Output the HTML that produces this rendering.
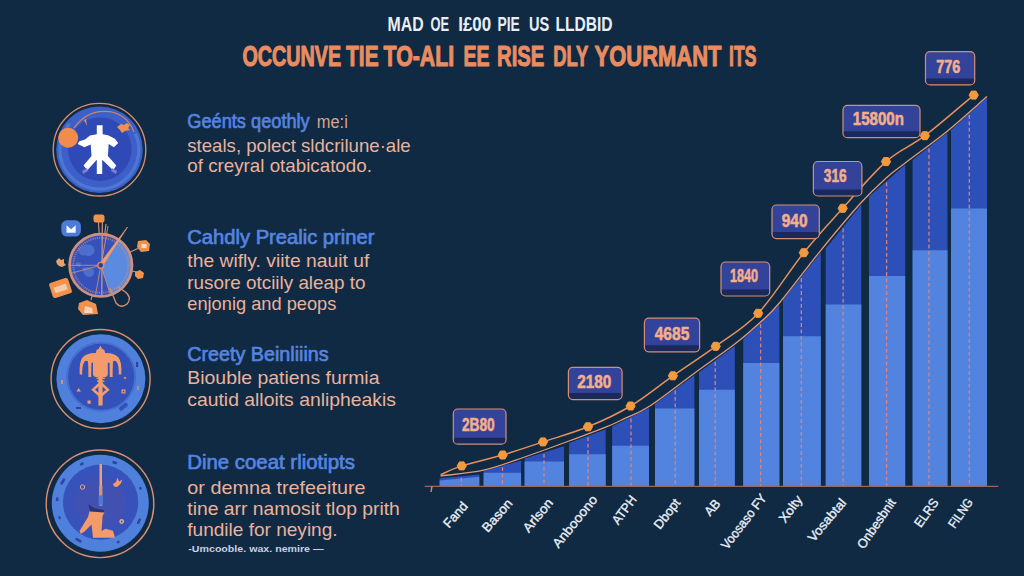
<!DOCTYPE html><html><head><meta charset="utf-8"><title>Infographic</title>
<style>html,body{margin:0;padding:0;background:#102a43;overflow:hidden}svg{display:block}text{font-family:"Liberation Sans",sans-serif}</style></head><body>
<svg width="1024" height="576" viewBox="0 0 1024 576">
<rect width="1024" height="576" fill="#102a43"/>
<g fill="#e9eef6" font-size="19.8" font-weight="700">
<text x="387.6" y="31.2" textLength="36.1" lengthAdjust="spacingAndGlyphs">MAD</text>
<text x="430.6" y="31.2" textLength="18.6" lengthAdjust="spacingAndGlyphs">OE</text>
<text x="458.2" y="31.2" textLength="33.0" lengthAdjust="spacingAndGlyphs">I£00</text>
<text x="497.4" y="31.2" textLength="22.4" lengthAdjust="spacingAndGlyphs">PIE</text>
<text x="529.0" y="31.2" textLength="20.3" lengthAdjust="spacingAndGlyphs">US</text>
<text x="555.4" y="31.2" textLength="57.2" lengthAdjust="spacingAndGlyphs">LLDBID</text>
</g>
<g fill="#ea8c60" font-size="29.6" font-weight="700" stroke="#ea8c60" stroke-width="1.1" stroke-linejoin="round">
<text x="242.4" y="65.6" textLength="98.8" lengthAdjust="spacingAndGlyphs">OCCUNVE</text>
<text x="346.1" y="65.6" textLength="32.5" lengthAdjust="spacingAndGlyphs">TIE</text>
<text x="383.5" y="65.6" textLength="70.6" lengthAdjust="spacingAndGlyphs">TO-ALI</text>
<text x="463.4" y="65.6" textLength="26.1" lengthAdjust="spacingAndGlyphs">EE</text>
<text x="497.1" y="65.6" textLength="47.2" lengthAdjust="spacingAndGlyphs">RISE</text>
<text x="553.2" y="65.6" textLength="35.2" lengthAdjust="spacingAndGlyphs">DLY</text>
<text x="594.6" y="65.6" textLength="126.9" lengthAdjust="spacingAndGlyphs">YOURMANT</text>
<text x="729.1" y="65.6" textLength="27.2" lengthAdjust="spacingAndGlyphs">ITS</text>
</g>
<text x="187.3" y="128.2" textLength="122.4" lengthAdjust="spacingAndGlyphs" fill="#5584e0" font-size="19.5" font-weight="400" stroke="#5584e0" stroke-width="0.65">Geénts qeothly</text>
<text x="316.8" y="128.0" textLength="31.0" lengthAdjust="spacingAndGlyphs" fill="#d9a48f" font-size="17.5" font-weight="400">me:i</text>
<text x="187.3" y="152.0" textLength="223.4" lengthAdjust="spacingAndGlyphs" fill="#eab29c" font-size="18.5" font-weight="400">steals, polect sldcrilune·ale</text>
<text x="187.3" y="172.4" textLength="184.6" lengthAdjust="spacingAndGlyphs" fill="#eab29c" font-size="18.5" font-weight="400">of creyral otabicatodo.</text>
<text x="187.3" y="243.9" textLength="187.1" lengthAdjust="spacingAndGlyphs" fill="#5584e0" font-size="19.5" font-weight="400" stroke="#5584e0" stroke-width="0.65">Cahdly Prealic priner</text>
<text x="187.3" y="266.5" textLength="182.0" lengthAdjust="spacingAndGlyphs" fill="#eab29c" font-size="18.5" font-weight="400">the wifly. viite nauit uf</text>
<text x="187.3" y="288.6" textLength="178.2" lengthAdjust="spacingAndGlyphs" fill="#eab29c" font-size="18.5" font-weight="400">rusore otciily aleap to</text>
<text x="187.3" y="310.2" textLength="149.0" lengthAdjust="spacingAndGlyphs" fill="#eab29c" font-size="18.5" font-weight="400">enjonig and peops</text>
<text x="187.3" y="361.2" textLength="141.4" lengthAdjust="spacingAndGlyphs" fill="#5584e0" font-size="19.5" font-weight="400" stroke="#5584e0" stroke-width="0.65">Creety Beinliiins</text>
<text x="187.3" y="383.8" textLength="192.2" lengthAdjust="spacingAndGlyphs" fill="#eab29c" font-size="18.5" font-weight="400">Biouble patiens furmia</text>
<text x="187.3" y="405.6" textLength="208.7" lengthAdjust="spacingAndGlyphs" fill="#eab29c" font-size="18.5" font-weight="400">cautid alloits anlipheakis</text>
<text x="187.3" y="469.2" textLength="167.6" lengthAdjust="spacingAndGlyphs" fill="#5584e0" font-size="19.5" font-weight="400" stroke="#5584e0" stroke-width="0.65">Dine coeat rliotipts</text>
<text x="187.3" y="493.8" textLength="178.2" lengthAdjust="spacingAndGlyphs" fill="#eab29c" font-size="18.5" font-weight="400">or demna trefeeiture</text>
<text x="187.3" y="514.8" textLength="212.5" lengthAdjust="spacingAndGlyphs" fill="#eab29c" font-size="18.5" font-weight="400">tine arr namosit tlop prith</text>
<text x="187.3" y="536.4" textLength="150.3" lengthAdjust="spacingAndGlyphs" fill="#eab29c" font-size="18.5" font-weight="400">fundile for neying.</text>
<text x="188.3" y="552.4" textLength="135.3" lengthAdjust="spacingAndGlyphs" fill="#c9cfe6" font-size="8.5" font-weight="700">-Umcooble. wax. nemire —</text>
<polygon fill="#2c4fb8" points="439.6,486.4 439.6,478.3 479.3,474.6 479.3,486.4"/>
<polygon fill="#5283de" points="439.6,486.4 439.6,480.4 479.3,476.8 479.3,486.4"/>
<polygon fill="#2c4fb8" points="483.6,486.4 483.6,471.2 521.1,460.4 521.1,486.4"/>
<polygon fill="#5283de" points="483.6,486.4 483.6,472.7 521.1,472.7 521.1,486.4"/>
<polygon fill="#2c4fb8" points="524.6,486.4 524.6,458.5 564.0,446.2 564.0,486.4"/>
<polygon fill="#5283de" points="524.6,486.4 524.6,461.4 564.0,461.4 564.0,486.4"/>
<polygon fill="#2c4fb8" points="569.1,486.4 569.1,442.9 605.7,429.2 605.7,486.4"/>
<polygon fill="#5283de" points="569.1,486.4 569.1,454.2 605.7,454.2 605.7,486.4"/>
<polygon fill="#2c4fb8" points="612.1,486.4 612.1,426.6 649.0,408.0 649.0,486.4"/>
<polygon fill="#5283de" points="612.1,486.4 612.1,445.8 649.0,445.8 649.0,486.4"/>
<polygon fill="#2c4fb8" points="655.0,486.4 655.0,403.8 694.4,375.2 694.4,486.4"/>
<polygon fill="#5283de" points="655.0,486.4 655.0,408.4 694.4,408.4 694.4,486.4"/>
<polygon fill="#2c4fb8" points="699.0,486.4 699.0,372.3 734.8,345.9 734.8,486.4"/>
<polygon fill="#5283de" points="699.0,486.4 699.0,389.8 734.8,389.8 734.8,486.4"/>
<polygon fill="#2c4fb8" points="743.2,486.4 743.2,339.0 779.4,305.0 779.4,486.4"/>
<polygon fill="#5283de" points="743.2,486.4 743.2,362.9 779.4,362.9 779.4,486.4"/>
<polygon fill="#2c4fb8" points="783.0,486.4 783.0,299.7 820.8,252.3 820.8,486.4"/>
<polygon fill="#5283de" points="783.0,486.4 783.0,336.2 820.8,336.2 820.8,486.4"/>
<polygon fill="#2c4fb8" points="825.7,486.4 825.7,248.4 861.3,204.4 861.3,486.4"/>
<polygon fill="#5283de" points="825.7,486.4 825.7,304.6 861.3,304.6 861.3,486.4"/>
<polygon fill="#2c4fb8" points="869.0,486.4 869.0,196.5 905.2,164.7 905.2,486.4"/>
<polygon fill="#5283de" points="869.0,486.4 869.0,276.0 905.2,276.0 905.2,486.4"/>
<polygon fill="#2c4fb8" points="912.6,486.4 912.6,160.0 947.5,132.5 947.5,486.4"/>
<polygon fill="#5283de" points="912.6,486.4 912.6,250.3 947.5,250.3 947.5,486.4"/>
<polygon fill="#2c4fb8" points="951.0,486.4 951.0,130.0 987.0,97.6 987.0,486.4"/>
<polygon fill="#5283de" points="951.0,486.4 951.0,208.4 987.0,208.4 987.0,486.4"/>
<line x1="461.3" y1="477.8" x2="461.3" y2="486.4" stroke="#e3857a" stroke-width="1.3" stroke-dasharray="3.8 2.6" opacity="0.95"/>
<line x1="502.5" y1="467.3" x2="502.5" y2="486.4" stroke="#e3857a" stroke-width="1.3" stroke-dasharray="3.8 2.6" opacity="0.95"/>
<line x1="544.0" y1="453.9" x2="544.0" y2="486.4" stroke="#e3857a" stroke-width="1.3" stroke-dasharray="3.8 2.6" opacity="0.95"/>
<line x1="588.0" y1="437.3" x2="588.0" y2="486.4" stroke="#e3857a" stroke-width="1.3" stroke-dasharray="3.8 2.6" opacity="0.95"/>
<line x1="631.0" y1="418.6" x2="631.0" y2="486.4" stroke="#e3857a" stroke-width="1.3" stroke-dasharray="3.8 2.6" opacity="0.95"/>
<line x1="675.2" y1="390.6" x2="675.2" y2="486.4" stroke="#e3857a" stroke-width="1.3" stroke-dasharray="3.8 2.6" opacity="0.95"/>
<line x1="715.2" y1="361.9" x2="715.2" y2="486.4" stroke="#e3857a" stroke-width="1.3" stroke-dasharray="3.8 2.6" opacity="0.95"/>
<line x1="760.6" y1="324.2" x2="760.6" y2="486.4" stroke="#e3857a" stroke-width="1.3" stroke-dasharray="3.8 2.6" opacity="0.95"/>
<line x1="801.3" y1="278.3" x2="801.3" y2="486.4" stroke="#e3857a" stroke-width="1.3" stroke-dasharray="3.8 2.6" opacity="0.95"/>
<line x1="843.1" y1="228.4" x2="843.1" y2="486.4" stroke="#e3857a" stroke-width="1.3" stroke-dasharray="3.8 2.6" opacity="0.95"/>
<line x1="886.6" y1="182.5" x2="886.6" y2="486.4" stroke="#e3857a" stroke-width="1.3" stroke-dasharray="3.8 2.6" opacity="0.95"/>
<line x1="929.0" y1="148.6" x2="929.0" y2="486.4" stroke="#e3857a" stroke-width="1.3" stroke-dasharray="3.8 2.6" opacity="0.95"/>
<line x1="969.3" y1="115.0" x2="969.3" y2="486.4" stroke="#e3857a" stroke-width="1.3" stroke-dasharray="3.8 2.6" opacity="0.95"/>
<line x1="424.7" y1="486.4" x2="998.4" y2="486.4" stroke="#96685a" stroke-width="1.1"/>
<line x1="432" y1="486" x2="431" y2="492" stroke="#e08a55" stroke-width="1.4"/>
<path d="M440.6 476.0 C447.8 475.0 469.6 473.4 483.6 470.2 C497.6 467.0 510.4 461.9 524.6 457.0 C538.8 452.1 555.5 446.0 569.0 441.0 C582.5 436.0 596.4 431.0 605.7 427.2 C615.0 423.4 617.8 421.8 625.0 418.4 C632.2 414.9 637.4 414.0 649.0 406.5 C660.6 399.0 680.1 383.6 694.4 373.2 C708.7 362.8 723.9 352.4 734.8 344.0 C745.7 335.6 752.6 329.3 760.0 322.5 C767.4 315.7 769.3 315.0 779.4 303.0 C789.5 291.0 807.2 267.1 820.8 250.3 C834.4 233.6 850.3 214.6 861.2 202.5 C872.2 190.4 878.9 184.6 886.2 178.0 C893.6 171.4 895.0 170.8 905.2 163.0 C915.4 155.2 933.9 142.1 947.5 131.0 C961.1 119.9 980.4 102.3 987.0 96.6" fill="none" stroke="#e39a78" stroke-width="1.3"/>
<path d="M440.6 474.7 C444.1 473.2 451.4 469.2 461.7 465.9 C472.0 462.6 489.1 459.0 502.7 455.0 C516.2 451.0 528.8 446.6 543.0 441.9 C557.2 437.2 573.4 432.8 588.0 426.8 C602.6 420.8 616.5 414.5 630.6 406.0 C644.8 397.5 658.7 385.8 672.9 375.8 C687.1 365.9 701.5 356.7 715.7 346.3 C729.9 335.9 743.5 328.9 758.2 313.3 C772.9 297.7 789.7 270.2 803.8 252.7 C817.9 235.2 829.0 223.5 842.7 208.3 C856.4 193.1 872.3 173.7 886.0 161.6 C899.7 149.5 910.3 146.8 924.9 135.7 C939.5 124.6 965.6 101.9 973.7 95.1" fill="none" stroke="#e8905c" stroke-width="1.5"/>
<polygon points="466.3,465.9 464.0,469.9 459.4,469.9 457.1,465.9 459.4,461.9 464.0,461.9" fill="#f39a3e" stroke="#f39a3e" stroke-width="1" stroke-linejoin="round"/>
<polygon points="507.3,455.0 505.0,459.0 500.4,459.0 498.1,455.0 500.4,451.0 505.0,451.0" fill="#f39a3e" stroke="#f39a3e" stroke-width="1" stroke-linejoin="round"/>
<polygon points="547.6,441.9 545.3,445.9 540.7,445.9 538.4,441.9 540.7,437.9 545.3,437.9" fill="#f39a3e" stroke="#f39a3e" stroke-width="1" stroke-linejoin="round"/>
<polygon points="592.6,426.8 590.3,430.8 585.7,430.8 583.4,426.8 585.7,422.8 590.3,422.8" fill="#f39a3e" stroke="#f39a3e" stroke-width="1" stroke-linejoin="round"/>
<polygon points="635.2,406.0 632.9,410.0 628.3,410.0 626.0,406.0 628.3,402.0 632.9,402.0" fill="#f39a3e" stroke="#f39a3e" stroke-width="1" stroke-linejoin="round"/>
<polygon points="677.5,375.8 675.2,379.8 670.6,379.8 668.3,375.8 670.6,371.8 675.2,371.8" fill="#f39a3e" stroke="#f39a3e" stroke-width="1" stroke-linejoin="round"/>
<polygon points="720.3,346.3 718.0,350.3 713.4,350.3 711.1,346.3 713.4,342.3 718.0,342.3" fill="#f39a3e" stroke="#f39a3e" stroke-width="1" stroke-linejoin="round"/>
<polygon points="762.8,313.3 760.5,317.3 755.9,317.3 753.6,313.3 755.9,309.3 760.5,309.3" fill="#f39a3e" stroke="#f39a3e" stroke-width="1" stroke-linejoin="round"/>
<polygon points="808.4,252.7 806.1,256.7 801.5,256.7 799.2,252.7 801.5,248.7 806.1,248.7" fill="#f39a3e" stroke="#f39a3e" stroke-width="1" stroke-linejoin="round"/>
<polygon points="847.3,208.3 845.0,212.3 840.4,212.3 838.1,208.3 840.4,204.3 845.0,204.3" fill="#f39a3e" stroke="#f39a3e" stroke-width="1" stroke-linejoin="round"/>
<polygon points="890.6,161.6 888.3,165.6 883.7,165.6 881.4,161.6 883.7,157.6 888.3,157.6" fill="#f39a3e" stroke="#f39a3e" stroke-width="1" stroke-linejoin="round"/>
<polygon points="929.5,135.7 927.2,139.7 922.6,139.7 920.3,135.7 922.6,131.7 927.2,131.7" fill="#f39a3e" stroke="#f39a3e" stroke-width="1" stroke-linejoin="round"/>
<polygon points="978.3,95.1 976.0,99.1 971.4,99.1 969.1,95.1 971.4,91.1 976.0,91.1" fill="#f39a3e" stroke="#f39a3e" stroke-width="1" stroke-linejoin="round"/>
<rect x="453.3" y="409.0" width="52.7" height="35.2" rx="4.5" fill="#18295a"/>
<path d="M457.3 409.0 h44.7 a4 4 0 0 1 4 4 v24.7 h-52.7 v-24.7 a4 4 0 0 1 4 -4z" fill="#33439a"/>
<rect x="453.3" y="409.0" width="52.7" height="35.2" rx="4.5" fill="none" stroke="#d48f76" stroke-width="1.2"/>
<text x="462.0" y="431.2" textLength="32.7" lengthAdjust="spacingAndGlyphs" fill="#f5ae8b" stroke="#f5ae8b" stroke-width="0.6" font-size="19" font-weight="700">2B80</text>
<rect x="568.4" y="367.4" width="53.7" height="32.2" rx="4.5" fill="#18295a"/>
<path d="M572.4 367.4 h45.7 a4 4 0 0 1 4 4 v21.7 h-53.7 v-21.7 a4 4 0 0 1 4 -4z" fill="#33439a"/>
<rect x="568.4" y="367.4" width="53.7" height="32.2" rx="4.5" fill="none" stroke="#d48f76" stroke-width="1.2"/>
<text x="577.2" y="387.8" textLength="34.0" lengthAdjust="spacingAndGlyphs" fill="#f5ae8b" stroke="#f5ae8b" stroke-width="0.6" font-size="19" font-weight="700">2180</text>
<rect x="644.4" y="318.2" width="55.2" height="33.6" rx="4.5" fill="#18295a"/>
<path d="M648.4 318.2 h47.2 a4 4 0 0 1 4 4 v23.1 h-55.2 v-23.1 a4 4 0 0 1 4 -4z" fill="#33439a"/>
<rect x="644.4" y="318.2" width="55.2" height="33.6" rx="4.5" fill="none" stroke="#d48f76" stroke-width="1.2"/>
<text x="654.7" y="339.5" textLength="34.6" lengthAdjust="spacingAndGlyphs" fill="#f5ae8b" stroke="#f5ae8b" stroke-width="0.6" font-size="19" font-weight="700">4685</text>
<rect x="721.0" y="262.0" width="48.7" height="34.0" rx="4.5" fill="#18295a"/>
<path d="M725.0 262.0 h40.7 a4 4 0 0 1 4 4 v23.5 h-48.7 v-23.5 a4 4 0 0 1 4 -4z" fill="#33439a"/>
<rect x="721.0" y="262.0" width="48.7" height="34.0" rx="4.5" fill="none" stroke="#d48f76" stroke-width="1.2"/>
<text x="730.0" y="282.3" textLength="28.0" lengthAdjust="spacingAndGlyphs" fill="#f5ae8b" stroke="#f5ae8b" stroke-width="0.6" font-size="19" font-weight="700">1840</text>
<rect x="772.0" y="205.0" width="47.3" height="33.6" rx="4.5" fill="#18295a"/>
<path d="M776.0 205.0 h39.3 a4 4 0 0 1 4 4 v23.1 h-47.3 v-23.1 a4 4 0 0 1 4 -4z" fill="#33439a"/>
<rect x="772.0" y="205.0" width="47.3" height="33.6" rx="4.5" fill="none" stroke="#d48f76" stroke-width="1.2"/>
<text x="781.8" y="227.0" textLength="25.7" lengthAdjust="spacingAndGlyphs" fill="#f5ae8b" stroke="#f5ae8b" stroke-width="0.6" font-size="19" font-weight="700">940</text>
<rect x="813.4" y="161.5" width="48.5" height="34.5" rx="4.5" fill="#18295a"/>
<path d="M817.4 161.5 h40.5 a4 4 0 0 1 4 4 v24.0 h-48.5 v-24.0 a4 4 0 0 1 4 -4z" fill="#33439a"/>
<rect x="813.4" y="161.5" width="48.5" height="34.5" rx="4.5" fill="none" stroke="#d48f76" stroke-width="1.2"/>
<text x="823.8" y="182.3" textLength="22.8" lengthAdjust="spacingAndGlyphs" fill="#f5ae8b" stroke="#f5ae8b" stroke-width="0.6" font-size="19" font-weight="700">316</text>
<rect x="843.0" y="105.4" width="77.0" height="32.3" rx="4.5" fill="#18295a"/>
<path d="M847.0 105.4 h69.0 a4 4 0 0 1 4 4 v21.8 h-77.0 v-21.8 a4 4 0 0 1 4 -4z" fill="#33439a"/>
<rect x="843.0" y="105.4" width="77.0" height="32.3" rx="4.5" fill="none" stroke="#d48f76" stroke-width="1.2"/>
<text x="852.8" y="124.9" textLength="51.2" lengthAdjust="spacingAndGlyphs" fill="#f5ae8b" stroke="#f5ae8b" stroke-width="0.6" font-size="19" font-weight="700">15800n</text>
<rect x="925.5" y="51.7" width="49.2" height="33.2" rx="4.5" fill="#18295a"/>
<path d="M929.5 51.7 h41.2 a4 4 0 0 1 4 4 v22.7 h-49.2 v-22.7 a4 4 0 0 1 4 -4z" fill="#33439a"/>
<rect x="925.5" y="51.7" width="49.2" height="33.2" rx="4.5" fill="none" stroke="#d48f76" stroke-width="1.2"/>
<text x="936.2" y="72.7" textLength="24.0" lengthAdjust="spacingAndGlyphs" fill="#f5ae8b" stroke="#f5ae8b" stroke-width="0.6" font-size="19" font-weight="700">776</text>
<text transform="translate(468.4 506.5) rotate(-49.0)" x="-29.6" y="0" textLength="29.6" lengthAdjust="spacingAndGlyphs" fill="#e9eef7" stroke="#e9eef7" stroke-width="0.35" font-size="13" font-weight="400">Fand</text>
<text transform="translate(513.1 503.8) rotate(-49.0)" x="-38.6" y="0" textLength="38.6" lengthAdjust="spacingAndGlyphs" fill="#e9eef7" stroke="#e9eef7" stroke-width="0.35" font-size="13" font-weight="400">Bason</text>
<text transform="translate(553.8 503.2) rotate(-50.0)" x="-39.1" y="0" textLength="39.1" lengthAdjust="spacingAndGlyphs" fill="#e9eef7" stroke="#e9eef7" stroke-width="0.35" font-size="13" font-weight="400">Arlson</text>
<text transform="translate(598.1 499.9) rotate(-51.0)" x="-62.9" y="0" textLength="62.9" lengthAdjust="spacingAndGlyphs" fill="#e9eef7" stroke="#e9eef7" stroke-width="0.35" font-size="13" font-weight="400">Anbooono</text>
<text transform="translate(637.2 499.7) rotate(-53.5)" x="-32.0" y="0" textLength="32.0" lengthAdjust="spacingAndGlyphs" fill="#e9eef7" stroke="#e9eef7" stroke-width="0.35" font-size="13" font-weight="400">ATPH</text>
<text transform="translate(680.9 502.8) rotate(-52.5)" x="-34.4" y="0" textLength="34.4" lengthAdjust="spacingAndGlyphs" fill="#e9eef7" stroke="#e9eef7" stroke-width="0.35" font-size="13" font-weight="400">Dbopt</text>
<text transform="translate(721.2 504.3) rotate(-48.0)" x="-16.8" y="0" textLength="16.8" lengthAdjust="spacingAndGlyphs" fill="#e9eef7" stroke="#e9eef7" stroke-width="0.35" font-size="13" font-weight="400">AB</text>
<text transform="translate(767.2 498.2) rotate(-52.5)" x="-65.5" y="0" textLength="65.5" lengthAdjust="spacingAndGlyphs" fill="#e9eef7" stroke="#e9eef7" stroke-width="0.35" font-size="13" font-weight="400">Voosaso FY</text>
<text transform="translate(803.1 499.5) rotate(-53.5)" x="-30.0" y="0" textLength="30.0" lengthAdjust="spacingAndGlyphs" fill="#e9eef7" stroke="#e9eef7" stroke-width="0.35" font-size="13" font-weight="400">Xolty</text>
<text transform="translate(846.9 503.2) rotate(-50.0)" x="-51.7" y="0" textLength="51.7" lengthAdjust="spacingAndGlyphs" fill="#e9eef7" stroke="#e9eef7" stroke-width="0.35" font-size="13" font-weight="400">Vosabtal</text>
<text transform="translate(896.2 502.3) rotate(-55.5)" x="-57.5" y="0" textLength="57.5" lengthAdjust="spacingAndGlyphs" fill="#e9eef7" stroke="#e9eef7" stroke-width="0.35" font-size="13" font-weight="400">Onbesbnit</text>
<text transform="translate(939.1 502.3) rotate(-55.0)" x="-31.8" y="0" textLength="31.8" lengthAdjust="spacingAndGlyphs" fill="#e9eef7" stroke="#e9eef7" stroke-width="0.35" font-size="13" font-weight="400">ELRS</text>
<text transform="translate(973.4 502.3) rotate(-55.0)" x="-32.5" y="0" textLength="32.5" lengthAdjust="spacingAndGlyphs" fill="#e9eef7" stroke="#e9eef7" stroke-width="0.35" font-size="13" font-weight="400">FILNG</text>
<g>
<circle cx="99.5" cy="149.7" r="46.3" fill="none" stroke="#d98f72" stroke-width="1.3"/>
<circle cx="99.5" cy="149.7" r="43.3" fill="#3c60c8"/>
<path d="M135.5 133.7 A39.5 39.5 0 1 1 69.5 123.7" fill="none" stroke="#5a86de" stroke-width="3.2" opacity="0.6"/>
<circle cx="99.8" cy="149.2" r="31.8" fill="#2f49b6"/>
<path d="M74 128 Q88 108 112 112 Q128 116 134 132" fill="none" stroke="#f0914e" stroke-width="1.2" opacity="0.8"/>
<path d="M117 127 l4 -3 l3 1 l3 -2 l3 2 l-2 3 l2 2 l-5 1 l-3 2 l-2 -3 z" fill="#f0914e"/>
<path d="M84 120 l3 6 l-1 -7z" fill="#f0914e"/>
<circle cx="68.2" cy="137.7" r="10" fill="#f28c4c"/>
<path fill="#ffffff" d="M96.8 125.3 L102.6 125.3 L102.6 134.3 L108 135.2 L115 138.7 L118.2 143.1 L114 147.3 L108.7 144 L107.9 155.9 L116.3 165.4 L113.1 170.2 L102.2 159.7 L102.2 174 L96.8 174 L96.8 159.7 L87.3 170.2 L83.5 165.4 L91.5 155.9 L90.7 144.4 L84.4 147.3 L77.7 144 L79.3 141.2 L85 139.5 L90 135.6 L96.8 134.3 Z"/>
<path d="M82 171 l5 -3 l1 3 l-5 3z M112 168 l5 3 l-1 3 l-5 -3z" fill="#7f7fc8"/>
</g>
<g>
<line x1="100.8" y1="265.3" x2="98.5" y2="222.0" stroke="#d98f72" stroke-width="1.1"/>
<line x1="100.8" y1="265.3" x2="106.0" y2="224.0" stroke="#d98f72" stroke-width="1.1"/>
<line x1="100.8" y1="265.3" x2="139.0" y2="248.0" stroke="#d98f72" stroke-width="1.1"/>
<line x1="100.8" y1="265.3" x2="137.0" y2="272.0" stroke="#d98f72" stroke-width="1.1"/>
<line x1="100.8" y1="265.3" x2="91.0" y2="300.0" stroke="#d98f72" stroke-width="1.1"/>
<circle cx="100.8" cy="265.3" r="31" fill="#3652ba"/>
<path d="M100.8 265.3 L117.0 239.4 A30.5 30.5 0 0 1 110.2 294.3 Z" fill="#5b8be1"/>
<path d="M78 250 q5 -7 13 -5 q5 3 3 8 q-4 5 -9 2 q-5 2 -7 -5z M82 268 q6 -2 11 1 q3 5 -2 8 q-7 1 -9 -9z M76 262 l5 1 l-1 4 l-4 -1z" fill="#5f86dc" opacity="0.55"/>
<line x1="102.3" y1="222" x2="101.8" y2="297" stroke="#d9a08c" stroke-width="1.1"/>
<circle cx="100.8" cy="265.3" r="31.2" fill="none" stroke="#cf917f" stroke-width="2.7"/>
<circle cx="100.8" cy="265.3" r="27.5" fill="none" stroke="#d98f72" stroke-width="2" stroke-dasharray="1 1.2" opacity="0.7"/>
<line x1="100.8" y1="265.3" x2="110.1" y2="293.8" stroke="#d98f72" stroke-width="0.9" opacity="0.9"/>
<line x1="100.8" y1="265.3" x2="70.8" y2="265.3" stroke="#d98f72" stroke-width="0.9" opacity="0.9"/>
<line x1="100.8" y1="265.3" x2="71.8" y2="273.1" stroke="#d98f72" stroke-width="0.9" opacity="0.9"/>
<line x1="100.8" y1="265.3" x2="95.6" y2="294.8" stroke="#d98f72" stroke-width="0.9" opacity="0.9"/>
<path d="M99.2 264.5 L127.5 227 L102.4 266.5 Z" fill="#f0a070" stroke="#e39266" stroke-width="0.8"/>
<path d="M101 266 L108 226" stroke="#d98f72" stroke-width="0.9" fill="none"/>
<circle cx="100.8" cy="265.3" r="3" fill="#2a3f9f" stroke="#f0914e" stroke-width="1.3"/>
<path d="M110 288 L116 303 Q121 309 127 304 Q133 297 124 291 L118 287" fill="none" stroke="#d98f72" stroke-width="1.3"/>
<rect x="61.3" y="220.3" width="19.6" height="16.2" rx="5.5" fill="#4d7bd9"/>
<path d="M66.5 225.2 l4.6 4 l4.6 -4 v7.6 h-9.2z" fill="#f4f7fd"/>
<rect x="93.5" y="214.5" width="11" height="8" rx="2.5" fill="#f0914e"/>
<path d="M138 241 l8 -1 l4 4 l-1 7 l-8 1 l-4 -5z" fill="#f0914e"/><rect x="141.5" y="244" width="5" height="4" fill="#f9d9c0"/>
<path d="M135 272 l5 -2 l4 3 l-1 5 l-5 1 l-3 -3z" fill="#f0914e"/>
<path d="M56 261 l3 -3 l2 2 l3 -1 l0 4 l2 2 l-4 2 l-3 -1 l-2 -2z" fill="#e8a070"/>
<g transform="rotate(-18 60.5 288)"><rect x="50.5" y="280" width="20" height="16" rx="2.5" fill="#f0914e"/><rect x="54" y="285.5" width="13" height="6" fill="#f6c9a8"/></g>
<path d="M79 303 l8 -3 l9 4 l2 10 l-15 1 l-5 -6z" fill="#f0914e"/><path d="M85 306 l7 2 l1 5 l-9 0z" fill="#f6d3b8"/>
</g>
<g>
<circle cx="100.6" cy="379.0" r="49.5" fill="none" stroke="#d98f72" stroke-width="1.4"/>
<circle cx="100.9" cy="378.7" r="44.5" fill="#4f80dc"/>
<circle cx="101.2" cy="376.8" r="34" fill="#3450b9"/>
<circle cx="101.2" cy="376.8" r="34" fill="none" stroke="#456fd0" stroke-width="2"/>
<rect x="118.5" y="405" width="10" height="4.2" rx="2" transform="rotate(-38 123 407)" fill="#3450b9"/>
<rect x="136" y="362" width="2.2" height="5" fill="#2f449f"/><rect x="76" y="407" width="5" height="2" fill="#2f449f"/><rect x="61" y="380" width="2" height="4" fill="#d9946f"/><rect x="137" y="386" width="2" height="4" fill="#d9946f" opacity=".7"/>
<path fill="#f39b6a" d="M100.4 345.8 L102.4 349 L104.4 350 L105 353 Q114 352.5 118.5 357.5 Q122 362 121.3 374.5 L118.8 374.5 Q119 365 116.4 361.5 Q114.5 359.8 113 361.5 Q112.600 368 112.600 377 L109.800 377 L109.600 363 L107.800 362.500 L107.800 375 L106 377 L95 377 L93 375 L93 362.500 L91.400 363 L91.200 377 L88.400 377 Q88.400 368 88 361.500 Q86.400 359.800 84.600 361.500 Q82 365 82.200 374.500 L79.700 374.500 Q79 362 82.500 357.500 Q87 352.500 96 353 L96.500 350 L98.500 349 Z"/>
<rect x="98.4" y="376" width="4.200" height="29.500" fill="#f39b6a"/>
<rect x="96.5" y="377.5" width="8.4" height="1.4" fill="#f39b6a"/><rect x="97" y="380.5" width="7.4" height="1.3" fill="#f39b6a"/>
<path d="M100.500 381 l9.200 8.800 l-9.200 8.200 l-9.200 -8.200z M100.500 384.800 l-5.400 5 l5.400 4.800 l5.400 -4.800z" fill="#f39b6a" fill-rule="evenodd"/>
<path d="M76.500 391.500 l2.200 -3.500 l2.200 3.500z" fill="#f39b6a"/><rect x="87.500" y="400.500" width="3.200" height="3.200" fill="#f39b6a"/><rect x="121.500" y="389.500" width="4" height="4" fill="#f39b6a"/><rect x="122.700" y="390.700" width="1.600" height="1.600" fill="#3450b9"/><circle cx="125" cy="378" r="1.300" fill="#d9805a"/>
</g>
<g>
<circle cx="100.0" cy="503.8" r="53.8" fill="none" stroke="#d98f72" stroke-width="1.4"/>
<circle cx="100.3" cy="503.3" r="48.5" fill="#4f80dc"/>
<circle cx="100.6" cy="502.2" r="37.6" fill="#3752bb"/>
<circle cx="100.6" cy="503" r="26" fill="#4a4fa8" opacity="0.5"/>
<rect x="59.3" y="480.2" width="7.0" height="2.600" rx="1.200" transform="rotate(-60 62.8 481.5)" fill="#2f46a8"/>
<rect x="79.8" y="462.7" width="4.0" height="2.600" rx="1.200" transform="rotate(-25 81.8 464.0)" fill="#2f46a8"/>
<rect x="112.2" y="461.3" width="5.0" height="2.600" rx="1.200" transform="rotate(20 114.7 462.6)" fill="#2f46a8"/>
<rect x="138.9" y="487.0" width="3.0" height="2.600" rx="1.200" transform="rotate(70 140.4 488.3)" fill="#2f46a8"/>
<rect x="136.0" y="519.9" width="6.0" height="2.600" rx="1.200" transform="rotate(115 139.0 521.2)" fill="#2f46a8"/>
<rect x="116.7" y="540.7" width="3.0" height="2.600" rx="1.200" transform="rotate(155 118.2 542.0)" fill="#2f46a8"/>
<rect x="75.0" y="538.9" width="7.0" height="2.600" rx="1.200" transform="rotate(210 78.5 540.2)" fill="#2f46a8"/>
<rect x="58.1" y="516.4" width="3.0" height="2.600" rx="1.200" transform="rotate(250 59.6 517.7)" fill="#2f46a8"/>
<rect x="55.2" y="498.0" width="4.0" height="2.600" rx="1.200" transform="rotate(275 57.2 499.3)" fill="#2f46a8"/>
<rect x="99.500" y="464" width="2.500" height="42" fill="#e9a27c"/>
<rect x="99.200" y="486" width="3.200" height="10" fill="#d99570"/>
<rect x="98.600" y="495.500" width="4.400" height="10" fill="#5078cc"/>
<path fill="#f39b6a" d="M89.8 510.5 L104.7 511.5 L102.6 516 L101.6 531 L105.5 528.8 L113 530.8 L115 537.8 L93 537.8 L91.5 524.5 L84 532 L80.5 533.8 L79.5 531 L88 517 Z"/>
<path d="M88.5 504.5 L94 508 L104.8 510.3 L104 512.6 L90 511.6 Z" fill="#2c3377"/>
<path d="M113 484 l3 -2 l1.500 -4.500 l1.500 4 l3.500 -2 l-2 4.500 l-3.500 3 l-3 -0.500z" fill="#f39b6a"/>
<circle cx="82.500" cy="487" r="2.200" fill="none" stroke="#e6a98a" stroke-width="1"/>
<circle cx="121.700" cy="521.500" r="2.400" fill="#e6a98a"/><circle cx="121.700" cy="521.500" r="0.900" fill="#3752bb"/>
</g>
</svg></body></html>
